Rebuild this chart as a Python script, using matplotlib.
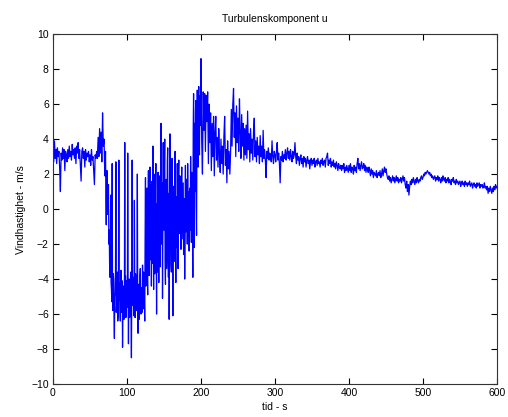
import numpy as np
import matplotlib
matplotlib.use("Agg")
import matplotlib.pyplot as plt

# u-component; 1 s samples, 0.5 s samples through the gusty part (70-200 s)
u_000 = [3.6, 2.7, 3.9, 2.9, 3.4, 2.6, 3.5, 3.0, 3.3, 2.4,
         1.0, 3.2, 2.8, 3.5, 2.9, 3.4, 2.2, 3.3, 3.1, 2.7,
         3.4, 2.9, 3.6, 3.0, 3.3, 2.8, 3.7, 3.1, 3.4, 2.9,
         3.5, 2.6, 3.6, 3.2, 3.8, 2.9, 3.4, 2.5, 1.6, 3.3,
         3.5, 2.9, 3.3, 2.4, 3.4, 2.8, 3.2, 3.0, 3.3, 2.7,
         3.1, 2.5, 3.4, 2.8, 3.0, 2.2, 1.4, 3.1, 2.9, 3.3,
         2.9, 4.1, 3.0, 4.6, 3.2, 4.4, 2.7, 5.5, 3.6, 4.0]
u_070 = [1.9, 2.7, 3.3, 0.6, -0.9, 1.5, 2.2, -0.3, 0.4, 1.1,
         1.4, -2.0, -1.2, -3.1, -3.9, -1.6, 0.8, -4.2, -4.6, -5.3,
         2.6, -4.9, -5.8, -3.7, -4.0, -6.2, -7.4, -5.0, -4.8, -3.5,
         2.7, -5.9, -5.5, -4.3, -3.6, -6.4, -6.1, -4.0, 2.8, -5.2,
         -4.2, -5.5, -6.4, -3.9, -3.5, -5.2, -5.9, -4.1, -7.9, -5.6,
         -4.4, -6.0, -6.3, -4.7, 3.8, -5.4, -3.8, -6.2, -5.7, -4.1]
u_100 = [-4.5, -5.6, 3.2, -4.8, -7.7, -5.1, -4.0, -6.2, -5.8, -4.3,
         -3.6, -6.0, -8.5, -4.7, 2.8, -5.5, -5.2, -3.9, -4.1, -6.1,
         0.5, -4.6, -6.2, -3.7, -3.9, -5.8, -5.4, -4.2, 2.0, -5.0,
         -7.1, -4.4, -4.3, -6.3, -5.9, -3.8, -3.4, -5.5, -6.0, -4.5,
         -4.6, -5.9, -3.2, -4.7, -5.7, -3.6, -4.1, -5.2, -6.4, -1.5,
         1.8, -4.4, -3.5, -0.8, 1.2, -3.9, -4.9, 0.4, 2.2, -2.6,
         -3.8, 0.9, 2.4, -2.9, -1.5, 1.4, -4.4, -0.2, 1.6, -3.1,
         3.6, -1.0, -4.6, 2.0, 0.8, -3.7, -2.8, 1.1, 2.6, -1.9,
         -6.0, 0.3, -0.5, -3.6, 2.1, -1.2, -4.2, 1.9, 1.0, -2.4,
         -3.3, 2.3, 4.9, -0.8, -2.0, 1.5, -5.1, -1.4, 3.8, 0.1,
         -1.2, 2.2, 4.0, -2.8, -4.3, 0.5, 1.7, -3.4, -2.5, 2.7,
         3.5, -1.1, -3.9, 0.9, -6.3, -2.1, 4.3, 1.2, 0.6, -3.2,
         -3.6, 1.6, 2.9, -1.7, -6.1, -0.4, 1.3, -3.0, -2.7, 2.0,
         3.3, -1.3, -4.2, 0.7, 0.2, -2.2, 2.6, -0.6, -3.4, 1.8,
         2.8, -0.3, -1.4, 1.9, 0.9, -1.0, -2.3, 1.1, 2.4, -1.7,
         -0.6, 0.4, 1.5, -2.6, -1.8, 0.6, -4.0, -0.7, 2.5, -1.3,
         -0.9, 1.7, 0.4, -2.0, 2.6, -0.2, -1.6, 1.0, -2.4, 0.1,
         1.2, -1.2, 3.0, 0.5, -1.9, 2.1, 0.3, -1.1, -3.9, 4.5,
         6.6, 1.8, -2.2, 4.9, 1.0, 5.5, 6.2, 0.2, -1.5, 3.9,
         6.8, 4.2, 2.4, 6.1, 7.0, 3.6, 3.1, 5.8, 6.5, 4.8]
u_200 = [8.6, 3.9, 2.0, 6.7, 4.5, 6.6, 3.3, 6.5, 5.0, 6.7,
         2.6, 6.0, 3.8, 5.5, 2.2, 4.9, 3.0, 5.3, 1.9, 4.4,
         5.3, 2.8, 4.1, 2.4, 4.6, 3.2, 2.1, 4.0, 2.6, 3.6,
         2.0, 4.2, 5.3, 2.5, 3.4, 1.5, 3.9, 2.3, 3.3, 2.0,
         3.2, 5.7, 3.6, 6.0, 6.9, 4.1, 5.5, 3.0, 5.9, 3.8,
         5.2, 3.3, 6.3, 4.4, 2.9, 5.4, 3.6, 4.9, 2.8, 4.6,
         3.1, 4.8, 2.9, 5.6, 3.4, 4.3, 2.7, 4.6, 3.2, 4.0,
         2.8, 4.4, 5.2, 3.0, 3.9, 2.7, 4.1, 3.1, 3.6, 2.6,
         4.2, 3.0, 3.6, 2.7, 4.5, 2.9, 3.4, 2.8, 1.8, 3.3,
         2.9, 3.5, 2.8, 3.2, 3.0, 2.7, 3.9, 3.0, 2.6, 3.3]
u_300 = [3.1, 2.7, 3.3, 3.8, 2.8, 3.2, 2.6, 1.5, 3.0, 2.8,
         3.3, 2.7, 3.1, 2.9, 3.4, 2.8, 3.2, 3.5, 2.9, 3.3,
         2.8, 3.4, 3.0, 2.7, 3.3, 2.9, 3.1, 3.8, 3.0, 2.6,
         3.2, 2.8, 3.0, 2.5, 2.9, 3.1, 2.6, 2.9, 2.4, 3.0,
         2.7, 2.9, 2.4, 2.8, 3.0, 2.6, 2.8, 2.3, 2.7, 2.9,
         2.5, 2.8, 2.6, 2.9, 2.4, 2.7, 2.8, 2.5, 2.9, 2.6,
         2.7, 2.4, 2.8, 2.6, 2.9, 2.5, 2.7, 2.8, 2.4, 2.9,
         3.0, 3.2, 2.5, 2.8, 2.6, 2.9, 2.4, 2.7, 2.5, 2.8,
         2.4, 2.6, 2.3, 2.7, 2.5, 2.2, 2.6, 2.4, 2.3, 2.5,
         2.2, 2.5, 2.3, 2.6, 2.1, 2.4, 2.2, 2.5, 2.3, 2.1]
u_400 = [2.5, 2.2, 2.6, 2.1, 2.4, 2.3, 2.0, 2.5, 2.2, 2.4,
         2.1, 2.6, 2.9, 2.3, 2.6, 2.2, 2.5, 2.7, 2.3, 2.4,
         2.6, 2.2, 2.5, 2.1, 2.4, 2.3, 2.1, 2.4, 2.2, 1.9,
         2.3, 2.0, 2.2, 1.8, 2.1, 2.0, 1.9, 2.2, 1.8, 2.0,
         2.1, 1.9, 2.2, 1.8, 2.0, 2.3, 1.9, 2.2, 2.4, 2.1,
         2.3, 2.0, 1.8, 1.7, 1.9, 1.6, 1.8, 1.5, 1.7, 1.9,
         1.6, 1.8, 1.5, 1.7, 1.9, 1.6, 1.8, 1.5, 1.7, 1.6,
         1.8, 1.5, 1.7, 1.9, 1.6, 1.8, 1.4, 1.2, 1.6, 1.0,
         1.4, 0.8, 1.3, 1.6, 1.4, 1.7, 1.5, 1.8, 1.6, 1.4,
         1.7, 1.5, 1.8, 1.6, 1.5, 1.7, 1.6, 1.8, 1.9, 1.7]
u_500 = [1.8, 2.0, 1.9, 2.1, 2.0, 2.1, 2.2, 2.1, 2.0, 2.1,
         1.9, 2.0, 1.8, 1.9, 1.7, 1.8, 1.9, 1.6, 1.8, 1.7,
         1.9, 1.6, 1.8, 1.7, 1.5, 1.8, 1.6, 1.9, 1.7, 1.6,
         1.8, 1.5, 1.7, 1.6, 1.8, 1.5, 1.7, 1.6, 1.4, 1.7,
         1.6, 1.8, 1.5, 1.6, 1.4, 1.7, 1.5, 1.6, 1.4, 1.5,
         1.6, 1.3, 1.5, 1.6, 1.4, 1.5, 1.3, 1.6, 1.4, 1.5,
         1.3, 1.5, 1.4, 1.6, 1.3, 1.4, 1.5, 1.2, 1.4, 1.5,
         1.3, 1.4, 1.2, 1.5, 1.3, 1.4, 1.5, 1.2, 1.4, 1.3,
         1.4, 1.2, 1.3, 1.5, 1.2, 1.3, 1.1, 1.3, 0.9, 1.2,
         1.0, 1.3, 1.1, 0.9, 1.2, 1.0, 1.3, 1.1, 1.4, 1.2,
         1.3]

# sample times (s) for each block
t = np.concatenate([
    np.arange(0, 70, 1.0),
    np.arange(70, 100, 0.5),
    np.arange(100, 200, 0.5),
    np.arange(200, 601, 1.0),
])
u = np.array(u_000 + u_070 + u_100 + u_200 + u_300 + u_400 + u_500)

x_ticks = [0, 100, 200, 300, 400, 500, 600]
y_ticks = [-10, -8, -6, -4, -2, 0, 2, 4, 6, 8, 10]

plt.rcParams['font.family'] = ['Liberation Sans', 'DejaVu Sans']

fig = plt.figure(figsize=(5.08, 4.17), dpi=100)
ax = fig.add_axes([0.1043, 0.0791, 0.8740, 0.8390])

ax.plot(t, u, color='#0000ff', lw=0.9)

ax.set_xlim(0, 600)
ax.set_ylim(-10, 10)
ax.set_xticks(x_ticks)
ax.set_yticks(y_ticks)
ax.tick_params(direction='in', length=4, width=0.8, labelsize=7.5,
               top=True, right=True, pad=3)
for s in ax.spines.values():
    s.set_linewidth(0.8)
    s.set_color('#333333')

ax.set_title('Turbulenskomponent u', fontsize=7.5, pad=9)
ax.set_xlabel('tid - s', fontsize=7.5, labelpad=3)
ax.set_ylabel('Vindhastighet - m/s', fontsize=7.5, labelpad=4)

fig.savefig('out.png', dpi=100)
